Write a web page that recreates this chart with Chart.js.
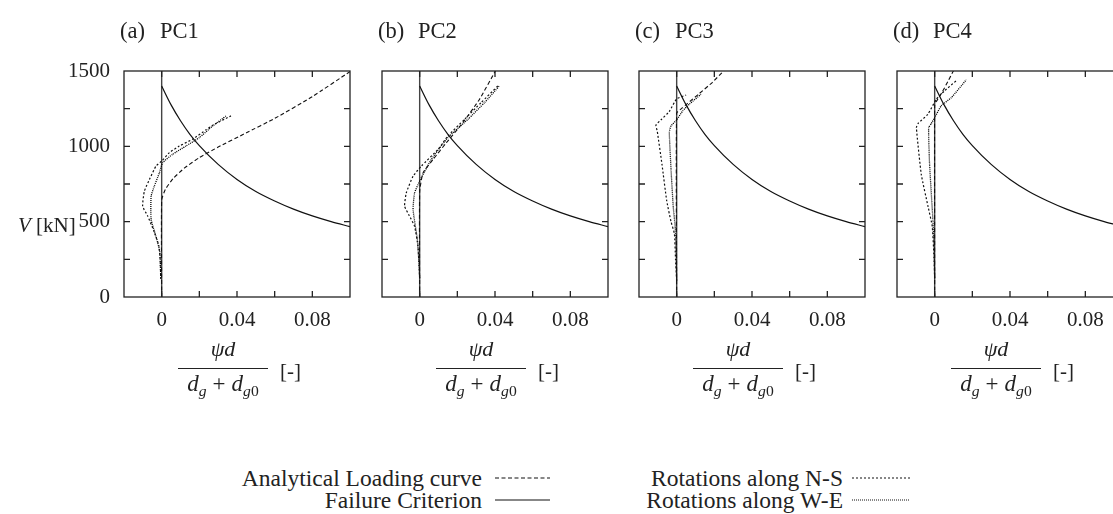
<!DOCTYPE html>
<html>
<head>
<meta charset="utf-8">
<script src="https://cdn.jsdelivr.net/npm/chart.js@4.4.1/dist/chart.umd.min.js"></script>
<style>
  html, body { margin: 0; padding: 0; background: #fff; overflow: hidden; }
  body { position: relative; width: 1113px; height: 514px; font-family: 'Liberation Serif', serif; color: #222; }
  canvas { position: absolute; top: 0; }
  .txt { position: absolute; font-size: 21px; line-height: 21px; white-space: pre; }
  .ttl { position: absolute; font-size: 22.5px; line-height: 22px; white-space: pre; }
  .num, .den { position: absolute; width: 90px; text-align: center; font-size: 22px; line-height: 26px; white-space: pre; }
  .den { font-size: 23px; }
  .bar { position: absolute; width: 90px; height: 1.5px; background: #222; }
  .den sub { font-size: 0.68em; vertical-align: -0.3em; line-height: 0; }
  .op { margin: 0 6px; }
  .leg { position: absolute; font-size: 23.5px; line-height: 24px; text-align: right; white-space: pre; }
  svg.sample { position: absolute; overflow: visible; }
</style>
</head>
<body>
<script>
// shared failure criterion curve
const failX = [0, 0.005, 0.01, 0.015, 0.02, 0.03, 0.04, 0.05, 0.06, 0.07, 0.08, 0.09, 0.1]
const failV = [1400, 1275, 1170, 1080, 1005, 880, 780, 700, 637, 583, 538, 500, 467]

// PC1
const aLoadX = [0, 0, 0.002, 0.006, 0.012, 0.02, 0.03, 0.045, 0.06, 0.08, 0.1]
const aLoadV = [0, 645, 715, 785, 855, 925, 995, 1090, 1185, 1330, 1496]
const aNsX = [-0.0005, -0.0008, -0.0015, -0.0039, -0.0075, -0.0101, -0.0092, -0.0065, -0.003, 0, 0.0041, 0.0094, 0.0164, 0.0236, 0.0271, 0.0368]
const aNsV = [120, 250, 340, 430, 540, 602, 702, 780, 869, 902, 958, 1002, 1047, 1110, 1140, 1202]
const aWeX = [-0.0005, -0.001, -0.003, -0.0056, -0.0056, -0.0039, -0.0012, 0.0005, 0.0058, 0.0129, 0.02, 0.0271, 0.0342]
const aWeV = [140, 300, 402, 513, 669, 736, 824, 891, 947, 1002, 1058, 1135, 1202]

// PC2
const bLoadX = [0, 0, 0.0018, 0.0071, 0.0142, 0.023, 0.0318, 0.0403]
const bLoadV = [0, 700, 824, 913, 1024, 1158, 1313, 1502]
const bNsX = [0, -0.0009, -0.0027, -0.0055, -0.008, -0.0071, -0.0035, 0.0009, 0.0098, 0.015, 0.0239, 0.0327, 0.0416]
const bNsV = [124, 335, 469, 540, 602, 691, 802, 869, 980, 1069, 1180, 1291, 1402]
const bWeX = [0, -0.0005, -0.0012, -0.0035, -0.0027, 0.0004, 0.0062, 0.015, 0.0257, 0.0345, 0.0424]
const bWeV = [124, 250, 380, 580, 691, 780, 913, 1058, 1180, 1291, 1402]

// PC3
const cLoadX = [0, 0, 0.003, 0.0058, 0.012, 0.019, 0.0253]
const cLoadV = [0, 1220, 1255, 1285, 1350, 1425, 1505]
const cNsX = [0, -0.0006, -0.0012, -0.003, -0.0053, -0.0078, -0.0103, -0.011, -0.008, -0.004, 0, 0.005]
const cNsV = [110, 250, 420, 500, 640, 880, 1100, 1140, 1180, 1230, 1315, 1340]
const cWeX = [0, -0.0003, -0.0008, -0.0018, -0.003, -0.0039, -0.003, 0, 0.0032, 0.0067, 0.0129]
const cWeV = [110, 300, 469, 595, 850, 1095, 1136, 1175, 1235, 1280, 1345]

// PC4
const dLoadX = [0, 0, 0.001, 0.004, 0.007, 0.01]
const dLoadV = [0, 1270, 1300, 1360, 1430, 1502]
const dNsX = [0, -0.0003, -0.0013, -0.0035, -0.0071, -0.0097, -0.0089, -0.0036, 0.0009, 0.0053, 0.0115]
const dNsV = [124, 250, 470, 600, 813, 1124, 1151, 1213, 1313, 1369, 1436]
const dWeX = [0, -0.0003, -0.0009, -0.0027, -0.0032, -0.0018, 0, 0.0035, 0.0089, 0.0168]
const dWeV = [124, 300, 502, 880, 1124, 1151, 1191, 1269, 1324, 1442]

const panelLetters = ['(a)', '(b)', '(c)', '(d)']
const panelNames = ['PC1', 'PC2', 'PC3', 'PC4']
const xTickLabels = ['0', '0.04', '0.08']
const yTickLabels = ['0', '500', '1000', '1500']
const legendLabels = ['Analytical Loading curve', 'Failure Criterion', 'Rotations along N-S', 'Rotations along W-E']

const pairs = (xs, vs) => xs.map((x, i) => ({ x, y: vs[i] }))

const panelData = [
  [aLoadX, aLoadV, aNsX, aNsV, aWeX, aWeV],
  [bLoadX, bLoadV, bNsX, bNsV, bWeX, bWeV],
  [cLoadX, cLoadV, cNsX, cNsV, cWeX, cWeV],
  [dLoadX, dLoadV, dNsX, dNsV, dWeX, dWeV]
]

const boxLeft = [124, 382, 639, 897]
const boxW = 226
const ink = '#111'
const dashLoad = [4, 2.5]
const dashNs = [2, 2]
const dashWe = [1, 1]

const frame = {
  id: 'frame',
  beforeDatasetsDraw(chart) {
    const { ctx, chartArea: a, scales: { x } } = chart
    const x0 = x.getPixelForValue(0)
    ctx.save()
    ctx.strokeStyle = '#444'
    ctx.lineWidth = 1.4
    ctx.beginPath()
    ctx.moveTo(x0, a.top)
    ctx.lineTo(x0, a.bottom)
    ctx.stroke()
    ctx.restore()
  },
  afterDatasetsDraw(chart) {
    const { ctx, chartArea: a, scales: { x, y } } = chart
    ctx.save()
    ctx.strokeStyle = '#222'
    ctx.lineWidth = 1.3
    ctx.strokeRect(a.left, a.top, a.right - a.left, a.bottom - a.top)
    ctx.beginPath()
    x.ticks.forEach(t => {
      const p = x.getPixelForValue(t.value)
      if (p <= a.left + 1 || p >= a.right - 1) return
      ctx.moveTo(p, a.bottom); ctx.lineTo(p, a.bottom - 6)
      ctx.moveTo(p, a.top); ctx.lineTo(p, a.top + 6)
    })
    y.ticks.forEach(t => {
      const p = y.getPixelForValue(t.value)
      if (p <= a.top + 1 || p >= a.bottom - 1) return
      ctx.moveTo(a.left, p); ctx.lineTo(a.left + 6, p)
      ctx.moveTo(a.right, p); ctx.lineTo(a.right - 6, p)
    })
    ctx.stroke()
    ctx.restore()
  }
}

const addDiv = (cls, left, top, html, extra) => {
  const d = document.createElement('div')
  d.className = cls
  d.style.left = left + 'px'
  d.style.top = top + 'px'
  if (extra) Object.assign(d.style, extra)
  d.innerHTML = html
  document.body.appendChild(d)
  return d
}

const tickFont = { family: 'Liberation Serif', size: 21 }

panelData.forEach((pd, i) => {
  const L = boxLeft[i]
  const padL = i === 0 ? L : 30
  const yw = i === 0 ? 60 : 0
  const cv = document.createElement('canvas')
  cv.width = padL + boxW + 20
  cv.height = 340
  cv.style.left = (L - padL) + 'px'
  document.body.appendChild(cv)

  const line = (data, dash, width) => ({
    data, showLine: true, pointRadius: 0, borderColor: ink, borderWidth: width,
    borderDash: dash, tension: 0.15, fill: false
  })

  new Chart(cv, {
    type: 'scatter',
    data: {
      datasets: [
        Object.assign(line(pairs(failX, failV), [], 1.2), { cubicInterpolationMode: 'monotone' }),
        line(pairs(pd[0], pd[1]), dashLoad, 1.1),
        line(pairs(pd[2], pd[3]), dashNs, 1.2),
        Object.assign(line(pairs(pd[4], pd[5]), dashWe, 1.3), { borderColor: '#000' })
      ]
    },
    options: {
      responsive: false,
      animation: false,
      events: [],
      layout: { padding: { left: padL - yw, top: 71, right: 20, bottom: 3 } },
      plugins: { legend: { display: false }, tooltip: { enabled: false } },
      scales: {
        x: {
          type: 'linear', min: -0.02, max: 0.1,
          grid: { display: false, drawTicks: false },
          border: { display: false },
          ticks: {
            stepSize: 0.02, autoSkip: false, maxRotation: 0, padding: 11,
            font: tickFont, color: '#222',
            callback: v => {
              const s = String(Math.round(v * 100) / 100)
              return xTickLabels.includes(s) ? s : ''
            }
          },
          afterFit: s => { s.height = 40 }
        },
        y: {
          type: 'linear', min: 0, max: 1500,
          grid: { display: false, drawTicks: false },
          border: { display: false },
          ticks: {
            display: i === 0, stepSize: 250, padding: 14,
            font: tickFont, color: '#222',
            callback: v => yTickLabels.includes(String(v)) ? String(v) : ''
          },
          afterFit: s => { s.width = yw }
        }
      }
    },
    plugins: [frame]
  })

  // panel title
  addDiv('ttl', L - 4, 20, panelLetters[i])
  addDiv('ttl', L + 36, 20, panelNames[i])
  // x-axis fraction
  addDiv('num', L + 54, 336, '<i>ψd</i>')
  addDiv('bar', L + 54, 367.5, '')
  addDiv('den', L + 44, 371, '<i>d</i><sub><i>g</i></sub><span class="op">+</span><i>d</i><sub><i>g</i>0</sub>', { width: '110px' })
  addDiv('txt', L + 156, 361, '[-]')
})

// y-axis title
addDiv('txt', 18, 215, '<i>V</i> [kN]')

// legend
const sample = (left, top, dash, w) => {
  const ns = 'http://www.w3.org/2000/svg'
  const s = document.createElementNS(ns, 'svg')
  s.setAttribute('class', 'sample')
  s.setAttribute('width', w)
  s.setAttribute('height', 4)
  s.style.left = left + 'px'
  s.style.top = (top - 2) + 'px'
  const l = document.createElementNS(ns, 'line')
  l.setAttribute('x1', 0); l.setAttribute('x2', w)
  l.setAttribute('y1', 2); l.setAttribute('y2', 2)
  l.setAttribute('stroke', ink)
  l.setAttribute('stroke-width', 1.2)
  if (dash.length) l.setAttribute('stroke-dasharray', dash.join(' '))
  s.appendChild(l)
  document.body.appendChild(s)
}

const legRows = [478, 500]
addDiv('leg', 182, legRows[0] - 12, legendLabels[0], { width: '300px' })
addDiv('leg', 182, legRows[1] - 12, legendLabels[1], { width: '300px' })
addDiv('leg', 543, legRows[0] - 12, legendLabels[2], { width: '300px' })
addDiv('leg', 543, legRows[1] - 12, legendLabels[3], { width: '300px' })
sample(495, legRows[0], dashLoad, 55)
sample(495, legRows[1], [], 55)
sample(852, legRows[0], dashNs, 58)
sample(852, legRows[1], dashWe, 58)
</script>
</body>
</html>
